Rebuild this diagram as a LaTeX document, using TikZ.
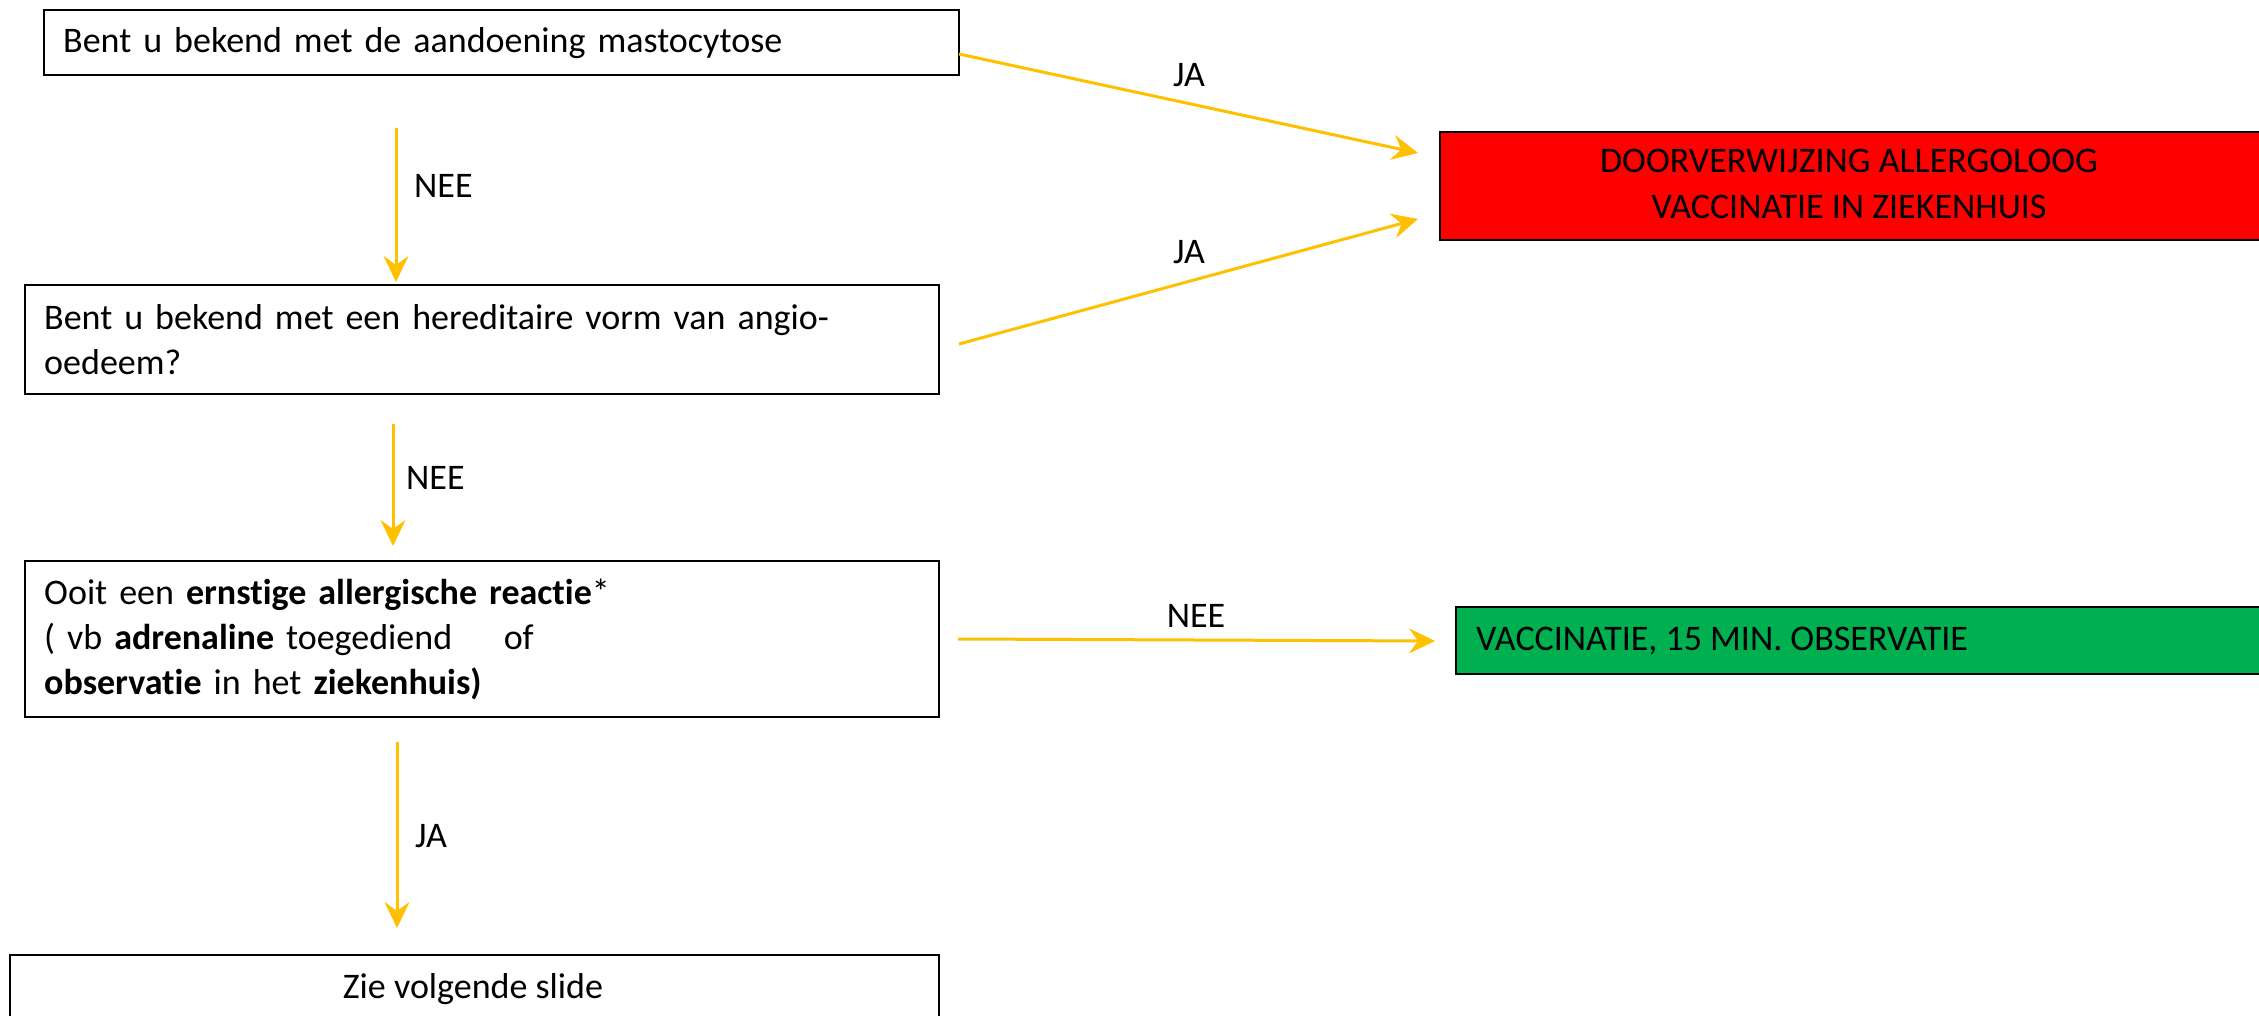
\documentclass[tikz,border=0pt]{standalone}
\usepackage{fontspec}
\setmainfont{Carlito}[Ligatures=NoCommon]
\usetikzlibrary{arrows.meta}
\definecolor{arrowc}{HTML}{FFC000}
\definecolor{redc}{HTML}{FF0000}
\definecolor{greenc}{HTML}{00B050}
\tikzset{
  qbox/.style={draw=black, line width=2.4pt, anchor=north west, inner xsep=19pt, inner ysep=0pt, align=left, font=\fontsize{36}{45}\selectfont},
  resbox/.style={draw=black, line width=2.4pt, anchor=north west, inner sep=0pt, font=\fontsize{36}{45}\selectfont},
  flow/.style={draw=arrowc, line width=3pt, -{Stealth[length=26pt,width=25pt,inset=9pt]}},
  lbl/.style={font=\fontsize{36}{42}\selectfont, inner sep=0pt},
}
\begin{document}
\begin{tikzpicture}[x=1pt,y=-1pt]
\useasboundingbox (0,0) rectangle (2259,1015);
% question boxes
\node[qbox, text width=877pt, minimum height=65pt] (b1) at (43,9) {Bent u bekend met de aandoening mastocytose};
\node[qbox, text width=876pt, minimum height=109pt] (b2) at (24,284) {Bent u bekend met een hereditaire vorm van angio-\\oedeem?};
\node[qbox, text width=876pt, minimum height=156pt] (b3) at (24,560) {Ooit een \textbf{ernstige allergische reactie}*\\( vb \textbf{adrenaline} toegediend\hspace{1.1em} of\\\textbf{observatie} in het \textbf{ziekenhuis)}};
\node[resbox, minimum width=929pt, minimum height=150pt, text depth=0pt] (b4) at (9,954) {};
\node[lbl, anchor=base] (t4) at (473,998) {Zie volgende slide};
% result boxes
\node[resbox, fill=redc, minimum width=830pt, minimum height=108pt] (red) at (1439,131) {};
\node[lbl, align=center, anchor=center, font=\fontsize{36}{46}\selectfont] (redtxt) at (1849,184) {DOORVERWIJZING ALLERGOLOOG\\VACCINATIE IN ZIEKENHUIS};
\node[resbox, fill=greenc, minimum width=820pt, minimum height=67pt] (green) at (1455,606) {};
\node[lbl, anchor=west] (greentxt) at (1476,641) {VACCINATIE, 15 MIN. OBSERVATIE};
% connector endpoints
\coordinate (d1s) at (396,128);
\coordinate (d1e) at (396,282);
\coordinate (d2s) at (393,424);
\coordinate (d2e) at (393,546);
\coordinate (d3s) at (397,742);
\coordinate (d3e) at (397,928);
\coordinate (j1s) at (959,54);
\coordinate (j1e) at (1418,153);
\coordinate (j2s) at (959,344);
\coordinate (j2e) at (1418,219);
\coordinate (n3s) at (958,639);
\coordinate (n3e) at (1435,641);
% connectors
\draw[flow] (d1s) -- (d1e);
\draw[flow] (d2s) -- (d2e);
\draw[flow] (d3s) -- (d3e);
\draw[flow] (j1s) -- (j1e);
\draw[flow] (j2s) -- (j2e);
\draw[flow] (n3s) -- (n3e);
% labels
\node[lbl, anchor=west] (l1) at (414,186) {NEE};
\node[lbl, anchor=west] (l2) at (406,478) {NEE};
\node[lbl, anchor=west] (l3) at (415,836) {JA};
\node[lbl] (l4) at (1189,75) {JA};
\node[lbl] (l5) at (1189,252) {JA};
\node[lbl] (l6) at (1196,616) {NEE};
\end{tikzpicture}
\end{document}
